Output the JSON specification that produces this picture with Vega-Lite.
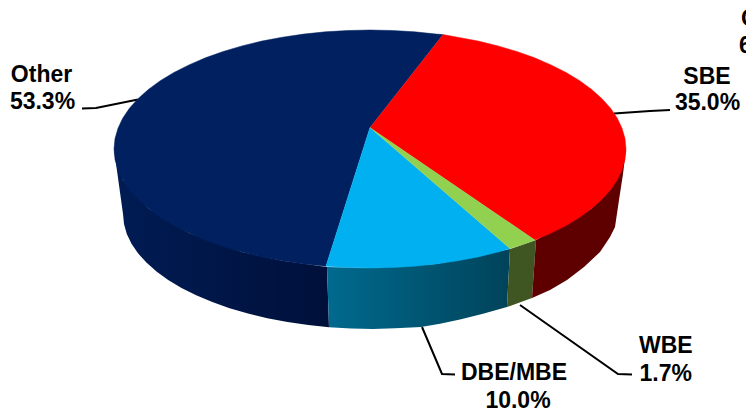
{
"$schema":"https://vega.github.io/schema/vega-lite/v6.json",
"width":746,"height":414,"autosize":"none","padding":0,
"background":"white",
"config":{"view":{"stroke":null}},
"datasets":{
"outline":[
{"p":"OtherWall","o":1,"x":-256,"y":0},{"p":"OtherWall","o":2,"x":-247.3,"y":-30.8},{"p":"OtherWall","o":3,"x":-221.7,"y":-59.5},{"p":"OtherWall","o":4,"x":-181,"y":-84.1},{"p":"OtherWall","o":5,"x":-128,"y":-103.1},{"p":"OtherWall","o":6,"x":-87.6,"y":-111.8},{"p":"OtherWall","o":7,"x":-43,"y":-118},{"p":"OtherWall","o":8,"x":-41,"y":-178.2},{"p":"OtherWall","o":9,"x":-61.7,"y":-176.1},{"p":"OtherWall","o":10,"x":-82.5,"y":-173.1},{"p":"OtherWall","o":11,"x":-102.7,"y":-169.2},{"p":"OtherWall","o":12,"x":-122,"y":-164.6},{"p":"OtherWall","o":13,"x":-140.4,"y":-159.2},{"p":"OtherWall","o":14,"x":-157.7,"y":-153.1},{"p":"OtherWall","o":15,"x":-173.8,"y":-146.3},{"p":"OtherWall","o":16,"x":-188.5,"y":-138.9},{"p":"OtherWall","o":17,"x":-201.8,"y":-131},{"p":"OtherWall","o":18,"x":-213.5,"y":-122.5},{"p":"OtherWall","o":19,"x":-223.6,"y":-113.6},{"p":"OtherWall","o":20,"x":-232,"y":-104.3},{"p":"OtherWall","o":21,"x":-238.5,"y":-94.8},{"p":"OtherWall","o":22,"x":-243.2,"y":-85},{"p":"OtherWall","o":23,"x":-246,"y":-75},{"p":"OtherWall","o":24,"x":-247,"y":-65},
{"p":"DBEWall","o":1,"x":-43,"y":-118},{"p":"DBEWall","o":2,"x":0,"y":-119},{"p":"DBEWall","o":3,"x":66,"y":-115},{"p":"DBEWall","o":4,"x":140,"y":-100},{"p":"DBEWall","o":5,"x":137,"y":-158},{"p":"DBEWall","o":6,"x":113,"y":-164.8},{"p":"DBEWall","o":7,"x":90,"y":-170.5},{"p":"DBEWall","o":8,"x":70,"y":-174.8},{"p":"DBEWall","o":9,"x":51,"y":-178},{"p":"DBEWall","o":10,"x":25,"y":-179.3},{"p":"DBEWall","o":11,"x":3,"y":-180},{"p":"DBEWall","o":12,"x":-18.8,"y":-179.6},{"p":"DBEWall","o":13,"x":-41,"y":-178.2},
{"p":"WBEWall","o":1,"x":140,"y":-100},{"p":"WBEWall","o":2,"x":166,"y":-91},{"p":"WBEWall","o":3,"x":162,"y":-149},{"p":"WBEWall","o":4,"x":137,"y":-158},
{"p":"SBEWall","o":1,"x":166,"y":-91},{"p":"SBEWall","o":2,"x":221.7,"y":-59.5},{"p":"SBEWall","o":3,"x":256,"y":0},{"p":"SBEWall","o":4,"x":253,"y":-25},{"p":"SBEWall","o":5,"x":249,"y":-51},{"p":"SBEWall","o":6,"x":245,"y":-78},{"p":"SBEWall","o":7,"x":240,"y":-88},{"p":"SBEWall","o":8,"x":230,"y":-103},{"p":"SBEWall","o":9,"x":214,"y":-118},{"p":"SBEWall","o":10,"x":197,"y":-131},{"p":"SBEWall","o":11,"x":180,"y":-141},{"p":"SBEWall","o":12,"x":162,"y":-149},
{"p":"OtherTop","o":1,"x":0,"y":21.5},{"p":"OtherTop","o":2,"x":73,"y":114.4},{"p":"OtherTop","o":3,"x":66.3,"y":114.9},{"p":"OtherTop","o":4,"x":44.5,"y":117.2},{"p":"OtherTop","o":5,"x":22.3,"y":118.5},{"p":"OtherTop","o":6,"x":0,"y":119},{"p":"OtherTop","o":7,"x":-22.3,"y":118.5},{"p":"OtherTop","o":8,"x":-44.5,"y":117.2},{"p":"OtherTop","o":9,"x":-66.3,"y":114.9},{"p":"OtherTop","o":10,"x":-87.6,"y":111.8},{"p":"OtherTop","o":11,"x":-108.2,"y":107.9},{"p":"OtherTop","o":12,"x":-128,"y":103.1},{"p":"OtherTop","o":13,"x":-146.8,"y":97.5},{"p":"OtherTop","o":14,"x":-164.6,"y":91.2},{"p":"OtherTop","o":15,"x":-181,"y":84.1},{"p":"OtherTop","o":16,"x":-196.1,"y":76.5},{"p":"OtherTop","o":17,"x":-209.7,"y":68.3},{"p":"OtherTop","o":18,"x":-221.7,"y":59.5},{"p":"OtherTop","o":19,"x":-232,"y":50.3},{"p":"OtherTop","o":20,"x":-240.6,"y":40.7},{"p":"OtherTop","o":21,"x":-247.3,"y":30.8},{"p":"OtherTop","o":22,"x":-252,"y":20.7},{"p":"OtherTop","o":23,"x":-255,"y":10.4},{"p":"OtherTop","o":24,"x":-256,"y":0},{"p":"OtherTop","o":25,"x":-255,"y":-10.4},{"p":"OtherTop","o":26,"x":-252,"y":-20.7},{"p":"OtherTop","o":27,"x":-247.3,"y":-30.8},{"p":"OtherTop","o":28,"x":-240.6,"y":-40.7},{"p":"OtherTop","o":29,"x":-232,"y":-50.3},{"p":"OtherTop","o":30,"x":-221.7,"y":-59.5},{"p":"OtherTop","o":31,"x":-209.7,"y":-68.3},{"p":"OtherTop","o":32,"x":-196.1,"y":-76.5},{"p":"OtherTop","o":33,"x":-181,"y":-84.1},{"p":"OtherTop","o":34,"x":-164.6,"y":-91.2},{"p":"OtherTop","o":35,"x":-146.8,"y":-97.5},{"p":"OtherTop","o":36,"x":-128,"y":-103.1},{"p":"OtherTop","o":37,"x":-108.2,"y":-107.9},{"p":"OtherTop","o":38,"x":-87.6,"y":-111.8},{"p":"OtherTop","o":39,"x":-66.3,"y":-114.9},{"p":"OtherTop","o":40,"x":-44,"y":-117.2},
{"p":"SBETop","o":1,"x":0,"y":21.5},{"p":"SBETop","o":2,"x":165,"y":-91},{"p":"SBETop","o":3,"x":181,"y":-84.1},{"p":"SBETop","o":4,"x":196.1,"y":-76.5},{"p":"SBETop","o":5,"x":209.7,"y":-68.3},{"p":"SBETop","o":6,"x":221.7,"y":-59.5},{"p":"SBETop","o":7,"x":232,"y":-50.3},{"p":"SBETop","o":8,"x":240.6,"y":-40.7},{"p":"SBETop","o":9,"x":247.3,"y":-30.8},{"p":"SBETop","o":10,"x":252,"y":-20.7},{"p":"SBETop","o":11,"x":255,"y":-10.4},{"p":"SBETop","o":12,"x":256,"y":0},{"p":"SBETop","o":13,"x":255,"y":10.4},{"p":"SBETop","o":14,"x":252,"y":20.7},{"p":"SBETop","o":15,"x":247.3,"y":30.8},{"p":"SBETop","o":16,"x":240.6,"y":40.7},{"p":"SBETop","o":17,"x":232,"y":50.3},{"p":"SBETop","o":18,"x":221.7,"y":59.5},{"p":"SBETop","o":19,"x":209.7,"y":68.3},{"p":"SBETop","o":20,"x":196.1,"y":76.5},{"p":"SBETop","o":21,"x":181,"y":84.1},{"p":"SBETop","o":22,"x":164.6,"y":91.2},{"p":"SBETop","o":23,"x":146.8,"y":97.5},{"p":"SBETop","o":24,"x":128,"y":103.1},{"p":"SBETop","o":25,"x":108.2,"y":107.9},{"p":"SBETop","o":26,"x":87.6,"y":111.8},{"p":"SBETop","o":27,"x":73,"y":114.4},
{"p":"WBETop","o":1,"x":0,"y":21.5},{"p":"WBETop","o":2,"x":140,"y":-99.6},{"p":"WBETop","o":3,"x":152,"y":-95.7},{"p":"WBETop","o":4,"x":165,"y":-91},
{"p":"DBETop","o":1,"x":0,"y":21.5},{"p":"DBETop","o":2,"x":-44,"y":-117.2},{"p":"DBETop","o":3,"x":-22.3,"y":-118.5},{"p":"DBETop","o":4,"x":0,"y":-119},{"p":"DBETop","o":5,"x":22.3,"y":-118.5},{"p":"DBETop","o":6,"x":44.5,"y":-117.2},{"p":"DBETop","o":7,"x":66.3,"y":-114.9},{"p":"DBETop","o":8,"x":87.6,"y":-111.8},{"p":"DBETop","o":9,"x":108.2,"y":-107.9},{"p":"DBETop","o":10,"x":128,"y":-103.1},{"p":"DBETop","o":11,"x":140,"y":-99.6}
],
"leaders":[
{"c":"Other","o":1,"x":-288,"y":40.5},{"c":"Other","o":2,"x":-274,"y":41},{"c":"Other","o":3,"x":-232,"y":49.5},
{"c":"SBE","o":1,"x":300,"y":39},{"c":"SBE","o":2,"x":280,"y":38},{"c":"SBE","o":3,"x":244,"y":35.5},
{"c":"DBE/MBE","o":1,"x":52,"y":-178},{"c":"DBE/MBE","o":2,"x":72,"y":-225},{"c":"DBE/MBE","o":3,"x":85,"y":-225.5},
{"c":"WBE","o":1,"x":150,"y":-156},{"c":"WBE","o":2,"x":248,"y":-225},{"c":"WBE","o":3,"x":262,"y":-225.5}
],
"labels":[
{"t":"Other","x":-328.5,"y":67},{"t":"53.3%","x":-327.5,"y":40},
{"t":"SBE","x":337,"y":65},{"t":"35.0%","x":337.5,"y":39},
{"t":"DBE/MBE","x":144,"y":-231},{"t":"10.0%","x":148,"y":-258.7},
{"t":"WBE","x":295.8,"y":-204},{"t":"1.7%","x":295.8,"y":-232}
],
"clipped":[
{"t":"O","x":371,"y":123},{"t":"6","x":369,"y":96}
]
},
"encoding":{
"x":{"field":"x","type":"quantitative","axis":null,"scale":{"domain":[-370,376],"nice":false,"zero":false}},
"y":{"field":"y","type":"quantitative","axis":null,"scale":{"domain":[-265,149],"nice":false,"zero":false}}
},
"layer":[
{"data":{"name":"leaders"},"mark":{"type":"line","stroke":"#000000","strokeWidth":2},"encoding":{"detail":{"field":"c"},"order":{"field":"o","type":"quantitative"}}},
{"data":{"name":"outline"},"transform":[{"filter":"datum.p==='OtherWall'"}],"mark":{"type":"line","stroke":null,"fill":{"gradient":"linear","x1":0,"x2":1,"y1":0,"y2":0,"stops":[{"offset":0,"color":"#001c54"},{"offset":1,"color":"#00103a"}]}},"encoding":{"order":{"field":"o","type":"quantitative"}}},
{"data":{"name":"outline"},"transform":[{"filter":"datum.p==='DBEWall'"}],"mark":{"type":"line","stroke":null,"fill":{"gradient":"linear","x1":0,"x2":1,"y1":0,"y2":0,"stops":[{"offset":0,"color":"#006a8e"},{"offset":1,"color":"#00435a"}]}},"encoding":{"order":{"field":"o","type":"quantitative"}}},
{"data":{"name":"outline"},"transform":[{"filter":"datum.p==='WBEWall'"}],"mark":{"type":"line","stroke":null,"fill":"#3f5522"},"encoding":{"order":{"field":"o","type":"quantitative"}}},
{"data":{"name":"outline"},"transform":[{"filter":"datum.p==='SBEWall'"}],"mark":{"type":"line","stroke":null,"fill":"#5e0000"},"encoding":{"order":{"field":"o","type":"quantitative"}}},
{"data":{"name":"outline"},"transform":[{"filter":"datum.p==='OtherTop'"}],"mark":{"type":"line","strokeWidth":0.5,"stroke":"#002060","fill":"#002060"},"encoding":{"order":{"field":"o","type":"quantitative"}}},
{"data":{"name":"outline"},"transform":[{"filter":"datum.p==='SBETop'"}],"mark":{"type":"line","strokeWidth":0.5,"stroke":"#ff0000","fill":"#ff0000"},"encoding":{"order":{"field":"o","type":"quantitative"}}},
{"data":{"name":"outline"},"transform":[{"filter":"datum.p==='DBETop'"}],"mark":{"type":"line","strokeWidth":0.5,"stroke":"#00b0f0","fill":"#00b0f0"},"encoding":{"order":{"field":"o","type":"quantitative"}}},
{"data":{"name":"outline"},"transform":[{"filter":"datum.p==='WBETop'"}],"mark":{"type":"line","strokeWidth":0.5,"stroke":"#92d050","fill":"#92d050"},"encoding":{"order":{"field":"o","type":"quantitative"}}},
{"data":{"name":"labels"},"mark":{"type":"text","font":"Liberation Sans","fontWeight":"bold","fontSize":23,"align":"center","baseline":"alphabetic","color":"#000000"},"encoding":{"text":{"field":"t"}}},
{"data":{"name":"clipped"},"mark":{"type":"text","font":"Liberation Sans","fontWeight":"bold","fontSize":23,"align":"left","baseline":"alphabetic","color":"#000000","clip":false},"encoding":{"text":{"field":"t"}}}
]
}
